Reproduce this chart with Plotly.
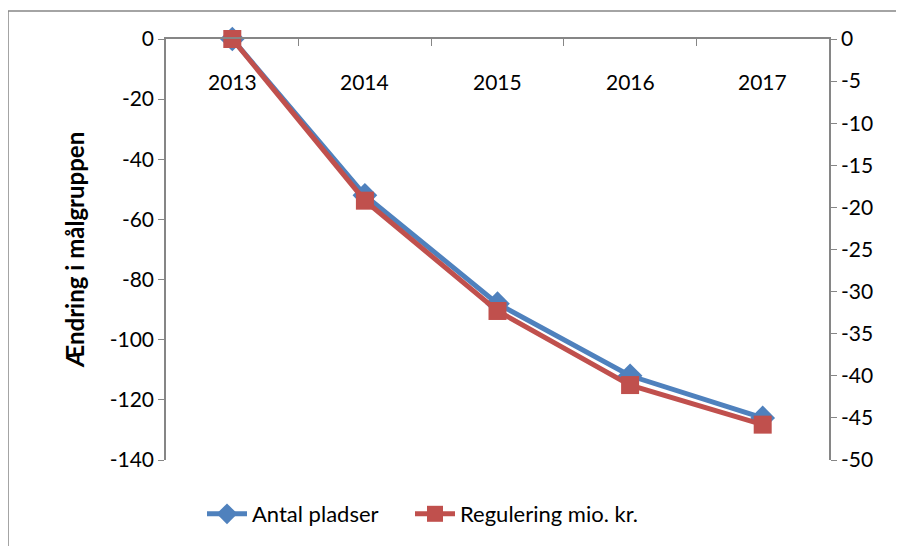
import plotly.graph_objects as go

years = ["2013", "2014", "2015", "2016", "2017"]
antal_pladser = [0, -52, -88, -112, -126]
regulering = [0, -19.2, -32.3, -41.1, -45.8]

left_ticks = [0, -20, -40, -60, -80, -100, -120, -140]
right_ticks = [0, -5, -10, -15, -20, -25, -30, -35, -40, -45, -50]

BLUE = "#4F81BD"
RED = "#C0504D"
GRAY = "#868686"
FONT = "Lato"

OFF = 7  # page offset compensation
W, H = 904 - OFF, 546 - OFF
L, R, T, B = 165 - OFF, 828 - OFF, 38 - OFF, 459 - OFF

fig = go.Figure()
fig.add_trace(go.Scatter(
    x=years, y=antal_pladser, name="Antal pladser", mode="lines+markers",
    line=dict(color=BLUE, width=5),
    marker=dict(symbol="diamond", size=19, color=BLUE),
    yaxis="y", cliponaxis=False, legend="legend",
))
fig.add_trace(go.Scatter(
    x=years, y=regulering, name="Regulering mio. kr.", mode="lines+markers",
    line=dict(color=RED, width=5),
    marker=dict(symbol="square", size=18, color=RED),
    yaxis="y2", cliponaxis=False, legend="legend2",
))

def px_x(p):
    return (p - OFF - L) / (R - L)

def px_y(p):
    return (B - (p - OFF)) / (B - T)

for i, yr in enumerate(years):
    fig.add_annotation(x=i, y=px_y(80), xref="x", yref="paper", text=yr,
                       showarrow=False, yanchor="middle",
                       font=dict(family=FONT, size=21, color="black"))

legend_style = dict(orientation="h", yanchor="middle", y=px_y(513),
                    xanchor="left", font=dict(family=FONT, size=22),
                    itemwidth=40, bgcolor="rgba(0,0,0,0)")

fig.update_layout(
    width=W, height=H,
    margin=dict(l=L, r=W - R, t=T, b=H - B, autoexpand=False),
    paper_bgcolor="white", plot_bgcolor="white",
    font=dict(family=FONT, size=20, color="black"),
    showlegend=True,
    legend=dict(x=px_x(201), **legend_style),
    legend2=dict(x=px_x(409), **legend_style),
    xaxis=dict(
        type="category", side="top", showgrid=False, automargin=False,
        showline=True, linecolor=GRAY, linewidth=1.5,
        ticks="inside", ticklen=7, tickcolor=GRAY, tickson="boundaries",
        showticklabels=False,
        range=[-0.5, 4.5], zeroline=False,
    ),
    yaxis=dict(
        range=[-140, 0], tickvals=left_ticks, ticktext=[str(v) for v in left_ticks],
        showgrid=False, zeroline=False, automargin=False,
        showline=True, linecolor=GRAY, linewidth=1.5,
        ticks="outside", ticklen=6, tickcolor=GRAY,
        tickfont=dict(family=FONT, size=21),
        title=dict(text="<b>Ændring i målgruppen</b>", font=dict(family=FONT, size=24), standoff=18),
    ),
    yaxis2=dict(
        range=[-50, 0], tickvals=right_ticks, ticktext=[str(v) for v in right_ticks],
        overlaying="y", side="right", automargin=False,
        showgrid=False, zeroline=False,
        showline=True, linecolor=GRAY, linewidth=1.5,
        ticks="outside", ticklen=6, tickcolor=GRAY,
        tickfont=dict(family=FONT, size=21),
    ),
)

fig.add_shape(type="rect", xref="paper", yref="paper",
              x0=px_x(7), x1=px_x(1000), y0=px_y(700), y1=px_y(10),
              line=dict(color=GRAY, width=1.5), fillcolor="rgba(0,0,0,0)", layer="below")

fig.write_html("out.html")
